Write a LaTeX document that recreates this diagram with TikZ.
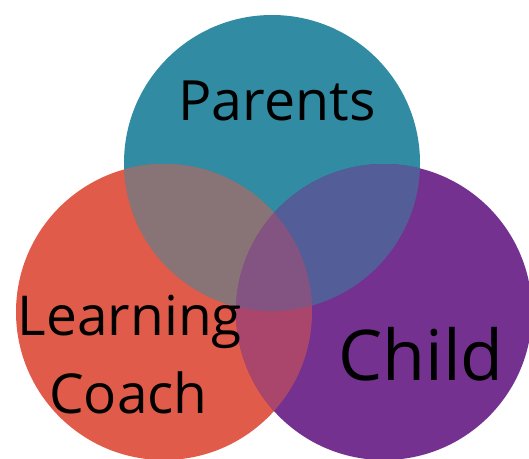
\documentclass[tikz,border=0pt]{standalone}
\usepackage{fontspec}
\setmainfont{Open Sans}
\usepackage{tikz}
\usetikzlibrary{positioning}
\definecolor{parentsteal}{RGB}{49,139,162}
\definecolor{coachred}{RGB}{224,91,73}
\definecolor{childpurple}{RGB}{116,49,143}
\colorlet{parentscoach}{parentsteal!50!coachred}
\colorlet{parentschild}{parentsteal!50!childpurple}
\colorlet{coachchild}{coachred!50!childpurple}
\definecolor{allthree}{RGB}{131,84,129}

\begin{document}
\begin{tikzpicture}[x=1pt,y=-1pt,
  label/.style={inner sep=0pt,text=black,anchor=base}]
\clip (0,0) rectangle (529,458);
\coordinate (P) at (272,163);
\coordinate (L) at (164,312);
\coordinate (C) at (384,312);
\fill[parentsteal] (P) circle (148pt);
\fill[coachred] (L) circle (148pt);
\fill[childpurple] (C) circle (148pt);
\begin{scope}
\clip (P) circle (148pt);
\fill[parentscoach] (L) circle (148pt);
\fill[parentschild] (C) circle (148pt);
\end{scope}
\begin{scope}
\clip (L) circle (148pt);
\fill[coachchild] (C) circle (148pt);
\clip (C) circle (148pt);
\fill[allthree] (P) circle (148pt);
\end{scope}
\node[label,font=\fontsize{55.5}{55.5}\selectfont] (parents) at (277,120) {Parents};
\node[label,font=\fontsize{70}{70}\selectfont] (child) at (421,380) {Child};
\node[label,font=\fontsize{55}{55}\selectfont] (learning) at (130,335) {Learning};
\node[label,font=\fontsize{55}{55}\selectfont] (coach) at (128.5,413) {Coach};
\end{tikzpicture}
\end{document}
